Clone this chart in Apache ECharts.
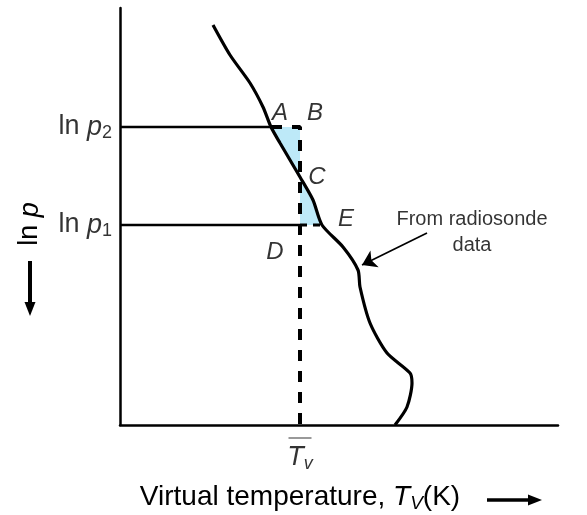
<!DOCTYPE html>
<html>
<head>
<meta charset="utf-8">
<script src="https://cdn.jsdelivr.net/npm/echarts@6/dist/echarts.min.js"></script>
<style>html,body{margin:0;padding:0;background:#fff;}#c{width:587px;height:515px;}</style>
</head>
<body>
<div id="c"></div>
<script>
// Schematic data (arbitrary units: x = virtual temperature, y = ln p)
const curveX = [93, 110, 130, 143, 151, 160, 180, 193, 202, 223, 238, 240, 250, 267, 290, 292, 287, 275];
const curveY = [400, 370, 342, 318, 298, 282, 248, 225, 200, 178, 155, 138, 102, 72, 52, 42, 18, 0];
const lnP2 = 298;
const lnP1 = 200;
const meanTv = 180;
const pointA = [151, 298];
const pointC = [180, 248];
const pointE = [202, 200];
const upperArea = [[151, 298], [180, 298], [180, 248], [160, 282]];
const lowerArea = [[180, 248], [193, 225], [202, 200], [180, 200]];
const letterNames = ['A', 'B', 'C', 'D', 'E'];
const letterX = [160, 195, 197, 155, 226];
const letterY = [312, 312, 248, 173, 206];
const noteText = 'From radiosonde\ndata';
const notePos = [352, 193];
const noteArrow = [[307, 192], [242, 160]];

const FONT = 'Liberation Sans, Arial, sans-serif';
const chart = echarts.init(document.getElementById('c'));

const curve = curveX.map((x, i) => [x, curveY[i]]);
const polys = [upperArea, lowerArea];
const baseTxt = { fontSize: 27, fontFamily: FONT, color: '#000', lineHeight: 31 };
const lnRich = {
  n: baseTxt,
  p: Object.assign({}, baseTxt, { fontStyle: 'italic' }),
  s: { fontSize: 18, fontFamily: FONT, color: '#000', lineHeight: 18, verticalAlign: 'bottom' }
};
const bigTxt = { fontSize: 28, fontFamily: FONT, color: '#000', lineHeight: 32 };

chart.setOption({
  animation: false,
  backgroundColor: '#fff',
  grid: { left: 120, top: 8, right: 29, bottom: 90 },
  xAxis: {
    type: 'value', min: 0, max: 438,
    axisLine: { show: true, lineStyle: { color: '#000', width: 2.5 } },
    axisTick: { show: false }, axisLabel: { show: false }, splitLine: { show: false }
  },
  yAxis: {
    type: 'value', min: 0, max: 417,
    axisLine: { show: true, lineStyle: { color: '#000', width: 2.5 } },
    axisTick: { show: false }, axisLabel: { show: false }, splitLine: { show: false }
  },
  series: [
    {
      type: 'custom', z: 1, data: [0, 1],
      renderItem: (params, api) => {
        const poly = polys[api.value(0)];
        return { type: 'polygon', shape: { points: poly.map(p => api.coord(p)) }, style: { fill: '#bde9f8' } };
      }
    },
    { type: 'line', z: 3, data: [[0, lnP2], pointA], symbol: 'none', lineStyle: { color: '#000', width: 2.5 } },
    { type: 'line', z: 3, data: [[0, lnP1], [meanTv, lnP1]], symbol: 'none', lineStyle: { color: '#000', width: 2.5 } },
    { type: 'line', z: 3, data: [pointA, [meanTv, lnP2], [meanTv, 0]], symbol: 'none', lineStyle: { color: '#000', width: 4, type: [11, 10] } },
    { type: 'line', z: 3, data: [[meanTv, lnP1], pointE], symbol: 'none', lineStyle: { color: '#000', width: 3, type: [7, 6] } },
    { type: 'line', z: 4, data: curve, symbol: 'none', smooth: 0.25, lineStyle: { color: '#000', width: 3.2 } },
    {
      type: 'lines', coordinateSystem: 'cartesian2d', z: 4,
      data: [{ coords: noteArrow }],
      symbol: ['none', 'arrow'], symbolSize: [9, 14],
      lineStyle: { color: '#000', width: 1.6, opacity: 1 }
    },
    {
      type: 'scatter', z: 5, symbolSize: 0, silent: true,
      data: letterNames.map((n, i) => ({ value: [letterX[i], letterY[i]], name: n })),
      label: { show: true, position: 'inside', formatter: p => p.name, fontSize: 24, fontStyle: 'italic', fontFamily: FONT, color: '#000' }
    },
    {
      type: 'scatter', z: 5, symbolSize: 0, silent: true,
      data: [{ value: notePos }],
      label: { show: true, position: 'inside', formatter: noteText, fontSize: 20, lineHeight: 26, align: 'center', fontFamily: FONT, color: '#000' }
    },
    {
      type: 'scatter', z: 5, symbolSize: 0, silent: true, clip: false,
      data: [
        { value: [0, lnP2], label: { formatter: '{n|ln }{p|p}{s|2}' } },
        { value: [0, lnP1], label: { formatter: '{n|ln }{p|p}{s|1}' } }
      ],
      label: { show: true, position: 'left', distance: 8, rich: lnRich }
    },
    {
      type: 'scatter', z: 5, symbolSize: 0, silent: true, clip: false,
      data: [{ value: [meanTv, 0] }],
      label: {
        show: true, position: 'bottom', distance: 9,
        formatter: '{bar|}\n{t|T}{s|v}',
        rich: {
          bar: { width: 23, height: 0, borderWidth: 1.2, borderColor: '#000', lineHeight: 8 },
          t: Object.assign({}, baseTxt, { fontStyle: 'italic' }),
          s: { fontSize: 18, fontFamily: FONT, fontStyle: 'italic', color: '#000', lineHeight: 18, verticalAlign: 'bottom' }
        }
      }
    }
  ],
  graphic: [
    {
      type: 'text', x: 30, y: 224, rotation: Math.PI / 2,
      style: { text: '{n|ln }{p|p}', align: 'center', verticalAlign: 'middle', rich: lnRich }
    },
    { type: 'line', shape: { x1: 30, y1: 261, x2: 30, y2: 304 }, style: { stroke: '#000', lineWidth: 4 } },
    { type: 'polygon', shape: { points: [[24.5, 302], [35.5, 302], [30, 316]] }, style: { fill: '#000' } },
    {
      type: 'text', x: 300, y: 497,
      style: {
        text: '{n|Virtual temperature, }{p|T}{s|V}{n|(K)}', align: 'center', verticalAlign: 'middle',
        rich: {
          n: bigTxt,
          p: Object.assign({}, bigTxt, { fontStyle: 'italic' }),
          s: { fontSize: 19, fontFamily: FONT, fontStyle: 'italic', color: '#000', lineHeight: 19, verticalAlign: 'bottom' }
        }
      }
    },
    { type: 'line', shape: { x1: 487, y1: 500, x2: 530, y2: 500 }, style: { stroke: '#000', lineWidth: 3.5 } },
    { type: 'polygon', shape: { points: [[528, 494.5], [528, 505.5], [542, 500]] }, style: { fill: '#000' } }
  ]
});
</script>
</body>
</html>
